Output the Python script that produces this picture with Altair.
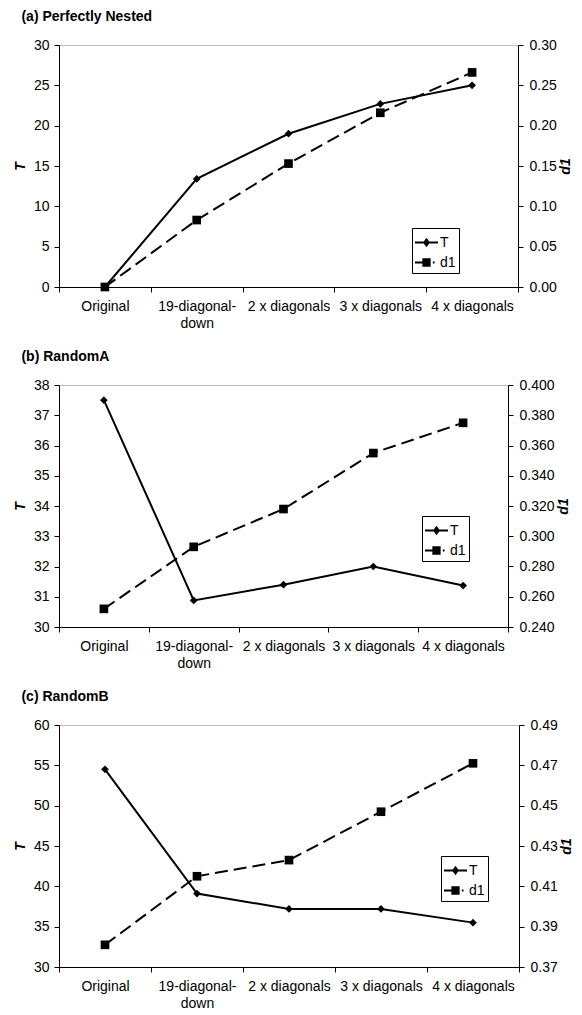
import altair as alt
import pandas as pd

categories = ["Original", "19-diagonal-down", "2 x diagonals", "3 x diagonals", "4 x diagonals"]

a_T = [0.0, 13.4, 19.0, 22.7, 25.0]
a_d1 = [0.0, 0.083, 0.153, 0.216, 0.266]

b_T = [37.5, 30.88, 31.4, 32.0, 31.37]
b_d1 = [0.252, 0.293, 0.318, 0.355, 0.375]

c_T = [54.5, 39.1, 37.2, 37.2, 35.5]
c_d1 = [0.381, 0.415, 0.423, 0.447, 0.471]

a_T_ticks = [0, 5, 10, 15, 20, 25, 30]
a_d1_ticks = [0.0, 0.05, 0.10, 0.15, 0.20, 0.25, 0.30]
b_T_ticks = [30, 31, 32, 33, 34, 35, 36, 37, 38]
b_d1_ticks = [0.24, 0.26, 0.28, 0.30, 0.32, 0.34, 0.36, 0.38, 0.40]
c_T_ticks = [30, 35, 40, 45, 50, 55, 60]
c_d1_ticks = [0.37, 0.39, 0.41, 0.43, 0.45, 0.47, 0.49]

series = ["T", "d1"]

FONT = "Liberation Sans"
# legend symbols: line + marker, built only from filled shapes
PATH_T = "M-1,-0.09H1V0.09H-1Z M0,-0.42L0.3,0L0,0.42L-0.3,0Z"
PATH_D1 = "M-1,-0.09H-0.3V0.09H-1Z M-0.36,-0.36H0.36V0.36H-0.36Z M0.55,-0.09H0.7V0.09H0.55Z"


def panel(title, T, d1, t_ticks, d_ticks, d_fmt, width, legx, legy):
    df = pd.DataFrame({"cat": categories, "T": T, "d1": d1})
    base = alt.Chart(df)
    x = alt.X(
        "cat:N",
        sort=categories,
        scale=alt.Scale(type="band", paddingInner=0, paddingOuter=0),
        axis=alt.Axis(
            title=None,
            tickBand="extent",
            labelAngle=0,
            labelOverlap=False,
            labelExpr="datum.value == '19-diagonal-down' ? ['19-diagonal-', 'down'] : datum.value",
            labelFont=FONT,
            labelFontSize=14,
            labelLineHeight=17,
            labelPadding=7,
            labelColor="black",
            tickSize=5,
            tickColor="black",
            domainColor="black",
            labelLimit=0,
        ),
    )
    t_scale = alt.Scale(domain=[t_ticks[0], t_ticks[-1]], nice=False, zero=False)
    d_scale = alt.Scale(domain=[d_ticks[0], d_ticks[-1]], nice=False, zero=False)
    t_axis = alt.Axis(
        title="T",
        values=t_ticks,
        format="d",
        titleFont=FONT,
        titleFontSize=14,
        titleFontStyle="italic",
        titleFontWeight="bold",
        titleColor="black",
        titlePadding=6,
        labelFont=FONT,
        labelFontSize=14,
        labelColor="black",
        labelPadding=5,
        labelOverlap=False,
        tickSize=5,
        tickColor="black",
        domainColor="black",
        grid=False,
    )
    d_axis = alt.Axis(
        title="d1",
        orient="right",
        values=d_ticks,
        format=d_fmt,
        titleAngle=270,
        titleBaseline="top",
        titleFont=FONT,
        titleFontSize=14,
        titleFontStyle="italic",
        titleFontWeight="bold",
        titleColor="black",
        titlePadding=2,
        labelFont=FONT,
        labelFontSize=14,
        labelColor="black",
        labelPadding=6,
        labelOverlap=False,
        tickSize=5,
        tickColor="black",
        domainColor="black",
        grid=False,
    )
    t_y = alt.Y("T:Q", scale=t_scale, axis=t_axis)
    d_y = alt.Y("d1:Q", scale=d_scale, axis=d_axis)
    t_line = base.mark_line(color="black", strokeWidth=2).encode(x=x, y=t_y)
    t_pts = base.mark_point(shape="diamond", filled=True, color="black", size=60, opacity=1).encode(
        x=x, y=t_y
    )
    leg = (
        base.transform_fold(series, as_=["series", "val"])
        .mark_point(filled=True, color="black", opacity=0)
        .encode(
            x=x,
            y=t_y,
            shape=alt.Shape(
                "series:N",
                scale=alt.Scale(domain=series, range=[PATH_T, PATH_D1]),
                legend=alt.Legend(
                    title=None,
                    orient="none",
                    legendX=legx,
                    legendY=legy,
                    direction="vertical",
                    strokeColor="black",
                    fillColor="white",
                    padding=3,
                    symbolSize=529,
                    symbolStrokeWidth=0,
                    symbolFillColor="black",
                    symbolOpacity=1,
                    labelFont=FONT,
                    labelFontSize=14,
                    labelColor="black",
                    labelOffset=2,
                    rowPadding=1,
                ),
            ),
        )
    )
    t_layer = alt.layer(t_line, t_pts, leg)
    d_line = base.mark_line(color="black", strokeWidth=2, strokeDash=[13, 6]).encode(x=x, y=d_y)
    d_pts = base.mark_square(color="black", size=75, opacity=1).encode(x=x, y=d_y)
    d_layer = alt.layer(d_line, d_pts)
    return (
        alt.layer(t_layer, d_layer)
        .resolve_scale(y="independent")
        .properties(
            width=width,
            height=242,
            title=alt.Title(
                title,
                anchor="start",
                frame="bounds",
                font=FONT,
                fontSize=14,
                fontWeight="bold",
                color="black",
                dx=8,
                offset=14,
            ),
        )
    )


pa = panel("(a) Perfectly Nested", a_T, a_d1, a_T_ticks, a_d1_ticks, ".2f", 459, 353, 183)
pb = panel("(b) RandomA", b_T, b_d1, b_T_ticks, b_d1_ticks, ".3f", 449, 363, 131)
pc = panel("(c) RandomB", c_T, c_d1, c_T_ticks, c_d1_ticks, ".2f", 460, 382, 131)

chart = (
    alt.vconcat(pa, pb, pc, spacing=18)
    .resolve_scale(shape="independent", x="independent")
    .resolve_legend(shape="independent")
    .configure(padding={"left": 4, "right": 0, "top": 1, "bottom": 0})
    .configure_view(stroke="#bfbfbf", strokeWidth=1)
)

chart.save("out.html", embed_options={"renderer": "svg", "actions": False})
